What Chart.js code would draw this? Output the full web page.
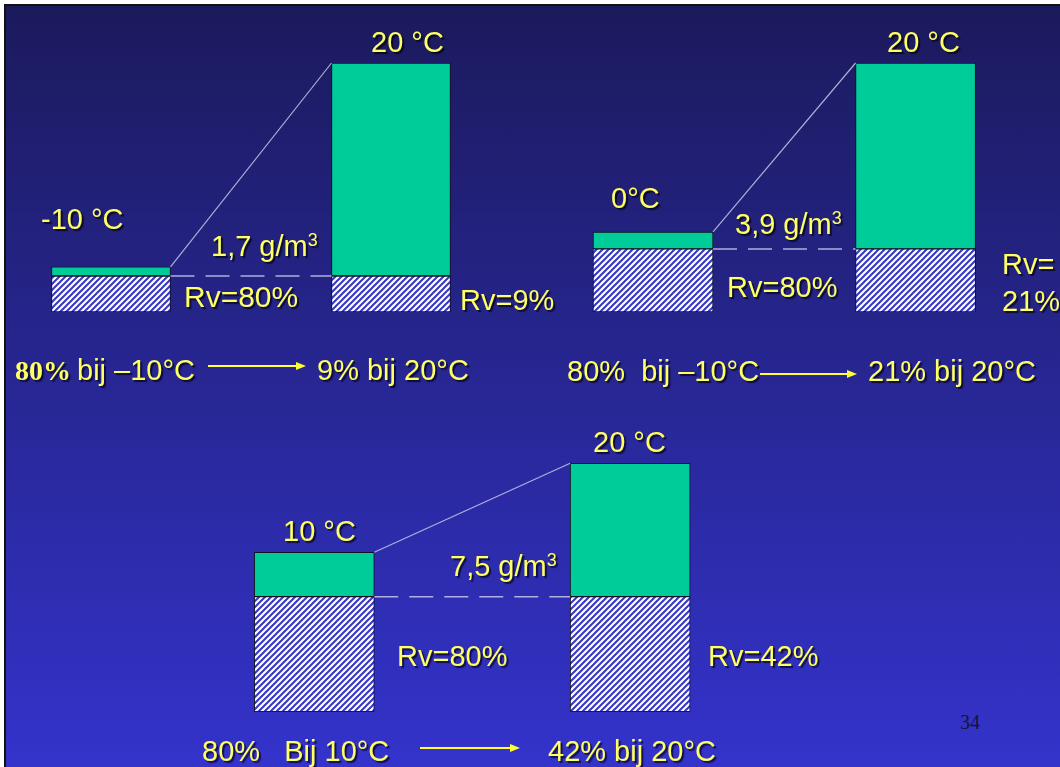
<!DOCTYPE html>
<html>
<head>
<meta charset="utf-8">
<script src="https://cdn.jsdelivr.net/npm/chart.js@4"></script>
<style>
  html, body { margin: 0; padding: 0; background: #fff; width: 1060px; height: 767px; overflow: hidden; }
  #frame {
    position: absolute; left: 4px; top: 4px; width: 1056px; height: 763px;
    border-left: 2px solid #111; border-top: 2px solid #111;
    background: linear-gradient(to bottom, #1b1a5c 0%, #3433cc 100%);
  }
  canvas { position: absolute; }
  .txt {
    position: absolute; white-space: pre; color: #ffff66;
    font-family: "Liberation Sans", Arial, sans-serif;
    text-shadow: 2px 2px 1px rgba(0, 0, 0, 0.65);
  }
  .txt sup { font-size: 0.62em; position: relative; top: -0.1em; vertical-align: top; line-height: 1; }
  .serifbold { font-family: "Liberation Serif", "Times New Roman", serif; font-weight: bold; }
  .arrow { position: absolute; background: #ffff33; height: 1.5px; }
  .head { position: absolute; width: 0; height: 0; border-left: 10px solid #ffff33;
          border-top: 4px solid transparent; border-bottom: 4px solid transparent; }
  #page { position: absolute; left: 960px; top: 711px; font: 20px "Liberation Serif", serif; color: #14143a; }
</style>
</head>
<body>
<div id="frame"></div>
<canvas id="chartA" width="560" height="400" style="left:0;top:0"></canvas>
<canvas id="chartB" width="520" height="400" style="left:540px;top:0"></canvas>
<canvas id="chartC" width="700" height="367" style="left:180px;top:400px"></canvas>
<div id="page">34</div>
<script>
// temperatures (middle slot left empty, it is the gap between the two bars)
var tempsA = ['-10 °C', '', '20 °C'];
var tempsB = ['0°C', '', '20 °C'];
var tempsC = ['10 °C', '', '20 °C'];

// water vapour present (g/m3), same amount before and after warming
var vapourA = [1.7, null, 1.7];
var vapourB = [3.9, null, 3.9];
var vapourC = [7.5, null, 7.5];

// remaining capacity up to saturation, as drawn
var spareA = [0.43, null, 10.05];
var spareB = [1.05, null, 11.5];
var spareC = [2.9, null, 8.7];

// relative humidity before / after
var rvBefore = [80, 80, 80];
var rvAfter = [9, 21, 42];

function hatchPattern() {
    var c = document.createElement('canvas');
    c.width = 6; c.height = 6;
    var g = c.getContext('2d');
    g.fillStyle = '#ffffff';
    g.fillRect(0, 0, 6, 6);
    g.strokeStyle = '#3535c8';
    g.lineWidth = 2;
    g.beginPath();
    g.moveTo(0, 6); g.lineTo(6, 0);
    g.moveTo(-1, 1); g.lineTo(1, -1);
    g.moveTo(5, 7); g.lineTo(7, 5);
    g.stroke();
    return g.createPattern(c, 'repeat');
}

var connectors = {
    id: 'connectors',
    afterDatasetsDraw: function (chart) {
        var vap = chart.getDatasetMeta(0).data;
        var sp = chart.getDatasetMeta(1).data;
        var ctx = chart.ctx;
        var lx = vap[0].x + vap[0].width / 2;
        var rx = vap[2].x - vap[2].width / 2;
        ctx.save();
        ctx.strokeStyle = 'rgba(200, 200, 235, 0.85)';
        ctx.lineWidth = 1.2;
        ctx.beginPath();
        ctx.moveTo(lx, sp[0].y);
        ctx.lineTo(rx, sp[2].y);
        ctx.stroke();
        ctx.setLineDash([24, 11]);
        ctx.lineWidth = 1.5;
        ctx.beginPath();
        ctx.moveTo(lx, vap[0].y);
        ctx.lineTo(rx, vap[2].y);
        ctx.stroke();
        ctx.restore();
    }
};

function drawPair(id, labels, vapour, spare, pad, thickness) {
    var top = 0;
    for (var i = 0; i < labels.length; i++) {
        top = Math.max(top, (vapour[i] || 0) + (spare[i] || 0));
    }
    var ctx = document.getElementById(id).getContext('2d');
    return new Chart(ctx, {
        type: 'bar',
        data: {
            labels: labels,
            datasets: [
                {
                    label: 'vapour',
                    data: vapour,
                    backgroundColor: hatchPattern(),
                    borderColor: '#111122',
                    borderWidth: 1,
                    borderSkipped: false,
                    barThickness: thickness
                },
                {
                    label: 'spare',
                    data: spare,
                    backgroundColor: '#00cc99',
                    borderColor: '#111122',
                    borderWidth: 1,
                    borderSkipped: false,
                    barThickness: thickness
                }
            ]
        },
        options: {
            responsive: false,
            animation: false,
            layout: { padding: pad },
            plugins: {
                legend: { display: false },
                tooltip: { enabled: false }
            },
            scales: {
                x: { display: false, stacked: true },
                y: { display: false, stacked: true, min: 0, max: top }
            }
        },
        plugins: [connectors]
    });
}

drawPair('chartA', tempsA, vapourA, spareA, { left: 41, right: 99, top: 63, bottom: 88 }, 119);
drawPair('chartB', tempsB, vapourB, spareB, { left: 47.4, right: 78.8, top: 63, bottom: 88 }, 120);
drawPair('chartC', tempsC, vapourC, spareC, { left: 55.3, right: 170.9, top: 63.3, bottom: 55.3 }, 120);

function addText(html, x, base, size, cls) {
    var d = document.createElement('div');
    d.className = 'txt' + (cls ? ' ' + cls : '');
    d.innerHTML = html;
    d.style.left = x + 'px';
    d.style.top = (base - 0.846 * size) + 'px';
    d.style.fontSize = size + 'px';
    d.style.lineHeight = size + 'px';
    document.body.appendChild(d);
}

function addArrow(x1, x2, y) {
    var l = document.createElement('div');
    l.className = 'arrow';
    l.style.left = x1 + 'px';
    l.style.top = (y - 0.75) + 'px';
    l.style.width = (x2 - x1 - 9) + 'px';
    document.body.appendChild(l);
    var h = document.createElement('div');
    h.className = 'head';
    h.style.left = (x2 - 10) + 'px';
    h.style.top = (y - 4) + 'px';
    document.body.appendChild(h);
}

function gm3(v) {
    return String(v).replace('.', ',') + ' g/m<sup>3</sup>';
}

// diagram 1
addText(tempsA[0], 41, 230, 29);
addText(tempsA[2], 371, 53, 29);
addText(gm3(vapourA[0]), 211, 257, 29);
addText('Rv=' + rvBefore[0] + '%', 184, 307, 30);
addText('Rv=' + rvAfter[0] + '%', 460, 311, 29);
addText(rvBefore[0] + '%', 15, 381, 28, 'serifbold');
addText('bij \u201310°C', 77, 381, 29);
addArrow(208, 306, 366);
addText(rvAfter[0] + '% bij 20°C', 317, 381, 29);

// diagram 2
addText(tempsB[0], 611, 209, 29);
addText(tempsB[2], 887, 53, 29);
addText(gm3(vapourB[0]), 735, 235, 29);
addText('Rv=' + rvBefore[1] + '%', 727, 298, 29);
addText('Rv=', 1002, 275, 29);
addText(rvAfter[1] + '%', 1002, 312, 29);
addText(rvBefore[1] + '%  bij \u201310°C', 567, 382, 29);
addArrow(760, 857, 374);
addText(rvAfter[1] + '% bij 20°C', 868, 382, 29);

// diagram 3
addText(tempsC[0], 283, 542, 29);
addText(tempsC[2], 593, 453, 29);
addText(gm3(vapourC[0]), 450, 577, 29);
addText('Rv=' + rvBefore[2] + '%', 397, 667, 29);
addText('Rv=' + rvAfter[2] + '%', 708, 667, 29);
addText(rvBefore[2] + '%   Bij 10°C', 202, 762, 29);
addArrow(420, 520, 748);
addText(rvAfter[2] + '% bij 20°C', 548, 762, 29);
</script>
</body>
</html>
